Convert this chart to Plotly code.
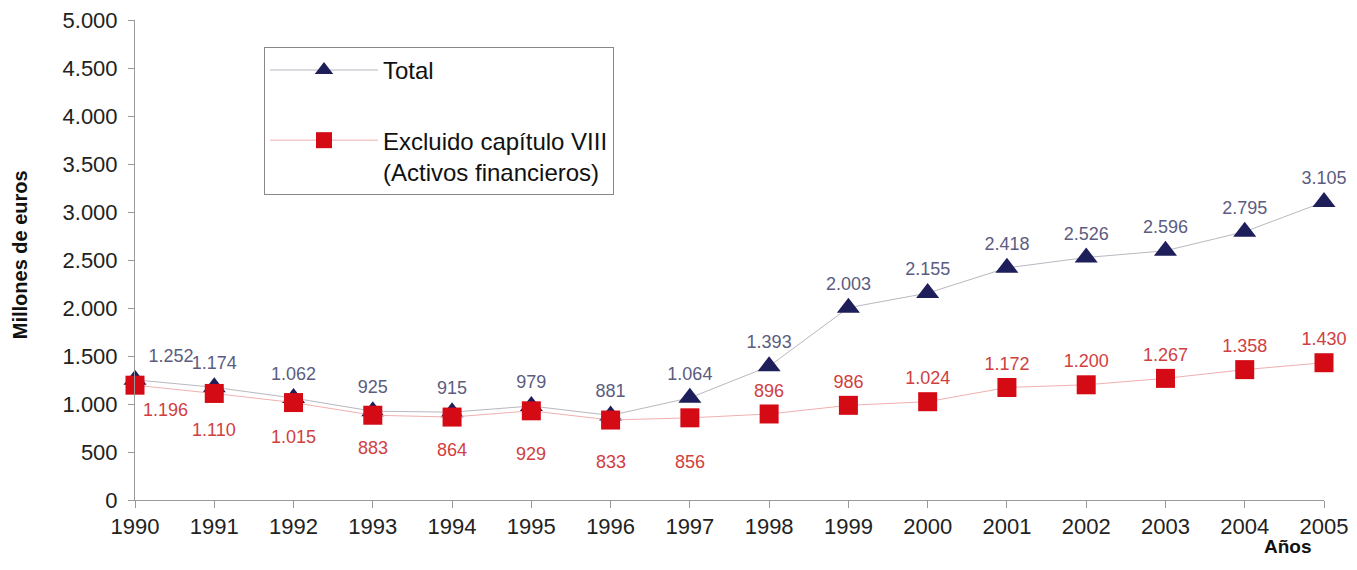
import plotly.graph_objects as go

years = list(range(1990, 2006))
total = [1252, 1174, 1062, 925, 915, 979, 881, 1064, 1393, 2003, 2155, 2418, 2526, 2596, 2795, 3105]
excluido = [1196, 1110, 1015, 883, 864, 929, 833, 856, 896, 986, 1024, 1172, 1200, 1267, 1358, 1430]

y_ticks = list(range(0, 5001, 500))


def fmt(v):
    return f"{v:,}".replace(",", ".")


# label placement per point
total_pos = ["top right"] + ["top center"] * 15
n_below = 8  # first red labels sit under their markers
below_shift = [-25, -37, -34, -33, -33, -43, -42, -44]
below_xshift = [30, 0, 0, 0, 0, 0, 0, 0]

excl_text = [""] * n_below + [fmt(v) for v in excluido[n_below:]]

fig = go.Figure()

fig.add_trace(go.Scatter(
    x=years, y=total, mode="lines+markers+text", name="Total",
    legendgroup="a",
    line=dict(color="#b8b8c0", width=1),
    marker=dict(symbol="triangle-up", size=20, color="#1e1e5a"),
    text=[fmt(v) for v in total], textposition=total_pos,
    textfont=dict(family="Liberation Sans, Arial", size=18, color="#5c5c80"),
    cliponaxis=False,
))

fig.add_trace(go.Scatter(
    x=years, y=excluido, mode="lines+markers+text",
    name="Excluido capítulo VIII<br>(Activos financieros)",
    legendgroup="b",
    line=dict(color="#f0b0b0", width=1),
    marker=dict(symbol="square", size=19, color="#d40a14"),
    text=excl_text, textposition="top center",
    textfont=dict(family="Liberation Sans, Arial", size=18, color="#d04040"),
    cliponaxis=False,
))

annotations = [
    dict(
        text="<b>Años</b>", x=0.9697, y=-0.097, xref="paper", yref="paper",
        xanchor="center", yanchor="middle", showarrow=False,
        font=dict(size=19, color="#111111"),
    ),
    dict(
        text="<b>Millones de euros</b>", x=-0.0967, y=0.51, xref="paper", yref="paper",
        xanchor="center", yanchor="middle", textangle=-90, showarrow=False,
        font=dict(size=20, color="#111111"),
    ),
]
for i in range(n_below):
    annotations.append(dict(
        x=years[i], y=excluido[i], text=fmt(excluido[i]), showarrow=False,
        xanchor="center", yanchor="middle",
        yshift=below_shift[i], xshift=below_xshift[i],
        font=dict(family="Liberation Sans, Arial", size=18, color="#d04040"),
    ))

# the page body adds an 8px offset, so the figure is sized to fit inside it
fig.update_layout(
    width=1341, height=554,
    margin=dict(l=127, r=25, t=12, b=62),
    paper_bgcolor="white", plot_bgcolor="white",
    separators=",.",
    font=dict(family="Liberation Sans, Arial", color="#222222"),
    showlegend=True,
    legend=dict(
        x=0.1085, y=0.944, xanchor="left", yanchor="top",
        bordercolor="#888888", borderwidth=1,
        font=dict(size=24, color="#111111"),
        tracegroupgap=36, itemwidth=108, valign="top",
        bgcolor="white",
    ),
    annotations=annotations,
)

fig.update_xaxes(
    range=[1990, 2005], tickvals=years, ticktext=[str(y) for y in years],
    showgrid=False, zeroline=False, showline=True, linecolor="#999999",
    ticks="outside", ticklen=7, tickcolor="#999999",
    tickfont=dict(size=22, color="#222222"), automargin=False,
    ticklabeloverflow="allow",
)

fig.update_yaxes(
    range=[0, 5000], tickvals=y_ticks, tickformat=",d",
    showgrid=False, zeroline=False, showline=True, linecolor="#999999",
    ticks="outside", ticklen=6, tickcolor="#999999", ticklabelstandoff=6,
    tickfont=dict(size=22, color="#222222"), automargin=False,
    ticklabeloverflow="allow",
)

fig.write_html("out.html")
